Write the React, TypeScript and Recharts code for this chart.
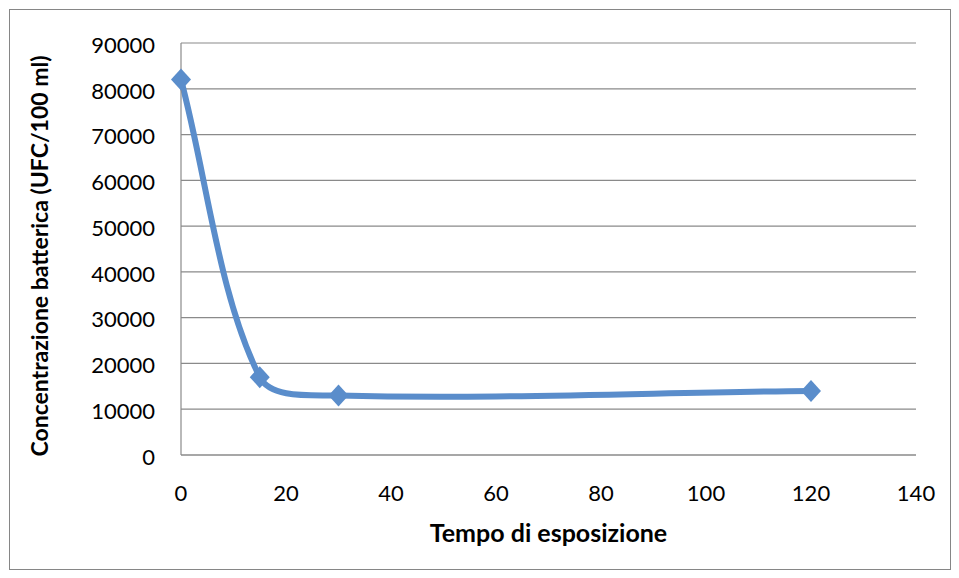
import React from "react";
import { LineChart, Line, XAxis, YAxis, CartesianGrid } from "recharts";

// ---------------------------------------------------------------------------
// Data
// ---------------------------------------------------------------------------

const times = [0, 15, 30, 120];
const counts = [82000, 17000, 13000, 14000];
const xTicks = [0, 20, 40, 60, 80, 100, 120, 140];
const yTicks = [0, 10000, 20000, 30000, 40000, 50000, 60000, 70000, 80000, 90000];

const data = times.map((t, i) => ({ t, value: counts[i] }));

const FONT = "Lato, 'Liberation Sans', sans-serif";
const BLUE = "#5a8dcb";
const GRID = "#8a8a8a";

// ---------------------------------------------------------------------------
// Excel-like smoothing: bezier through the points, tangents scaled by
// segment length so short segments don't overshoot
// ---------------------------------------------------------------------------

function smoothCurve(context: any) {
  let pts: number[][] = [];
  const dist = (a: number[], b: number[]) => Math.hypot(b[0] - a[0], b[1] - a[1]);
  return {
    areaStart() {},
    areaEnd() {},
    lineStart() {
      pts = [];
    },
    point(x: number, y: number) {
      pts.push([+x, +y]);
    },
    lineEnd() {
      if (!pts.length) return;
      context.moveTo(pts[0][0], pts[0][1]);
      for (let i = 0; i < pts.length - 1; i++) {
        const p0 = pts[Math.max(0, i - 1)];
        const p1 = pts[i];
        const p2 = pts[i + 1];
        const p3 = pts[Math.min(pts.length - 1, i + 2)];
        const d01 = dist(p0, p1);
        const d12 = dist(p1, p2);
        const d23 = dist(p2, p3);
        const k1 = d12 / (d01 + d12 || 1) / 3;
        const k2 = d12 / (d12 + d23 || 1) / 3;
        context.bezierCurveTo(
          p1[0] + (p2[0] - p0[0]) * k1,
          p1[1] + (p2[1] - p0[1]) * k1,
          p2[0] - (p3[0] - p1[0]) * k2,
          p2[1] - (p3[1] - p1[1]) * k2,
          p2[0],
          p2[1]
        );
      }
    },
  };
}

// ---------------------------------------------------------------------------
// Marks and labels
// ---------------------------------------------------------------------------

function Diamond(props: any) {
  const { cx, cy } = props;
  if (cx == null || cy == null) return null;
  return (
    <path
      d={`M${cx},${cy - 11} L${cx + 10},${cy} L${cx},${cy + 11} L${cx - 10},${cy} Z`}
      fill={BLUE}
    />
  );
}

function YTitle(props: any) {
  const { x, y, height } = props.viewBox;
  const cx = x + 29;
  const cy = y + height / 2 + 7;
  return (
    <text
      x={cx}
      y={cy}
      transform={`rotate(-90 ${cx} ${cy})`}
      textAnchor="middle"
      dominantBaseline="central"
      fontFamily={FONT}
      fontWeight={700}
      fontSize={23}
      fill="#000"
    >
      Concentrazione batterica (UFC/100 ml)
    </text>
  );
}

function XTitle(props: any) {
  const { x, y, width } = props.viewBox;
  return (
    <text
      x={x + width / 2}
      y={y + 87}
      textAnchor="middle"
      fontFamily={FONT}
      fontWeight={700}
      fontSize={25}
      fill="#000"
    >
      Tempo di esposizione
    </text>
  );
}

// ---------------------------------------------------------------------------
// App
// ---------------------------------------------------------------------------

export default function App() {
  return (
    <div
      style={{
        margin: "1px 0 0 1px",
        width: 940,
        height: 559,
        border: "1px solid #868686",
        background: "#fff",
      }}
    >
      <LineChart
        width={940}
        height={559}
        data={data}
        margin={{ top: 33, right: 34, bottom: 34, left: 0 }}
      >
        <CartesianGrid vertical={false} stroke={GRID} strokeWidth={1.2} />
        <XAxis
          type="number"
          dataKey="t"
          domain={[0, 140]}
          ticks={xTicks}
          height={80}
          axisLine={{ stroke: GRID, strokeWidth: 1.2 }}
          tickLine={false}
          tickMargin={24}
          tick={{ fontSize: 22, fill: "#000", fontFamily: FONT }}
          label={{ content: <XTitle /> }}
        />
        <YAxis
          type="number"
          domain={[0, 90000]}
          ticks={yTicks}
          width={171}
          axisLine={{ stroke: GRID, strokeWidth: 1.2 }}
          tickLine={false}
          tickMargin={20}
          interval={0}
          tick={{ fontSize: 22, fill: "#000", fontFamily: FONT, dy: 2 }}
          label={{ content: <YTitle /> }}
        />
        <Line
          dataKey="value"
          type={smoothCurve as any}
          stroke={BLUE}
          strokeWidth={6}
          dot={<Diamond />}
          activeDot={false}
          isAnimationActive={false}
        />
      </LineChart>
    </div>
  );
}
